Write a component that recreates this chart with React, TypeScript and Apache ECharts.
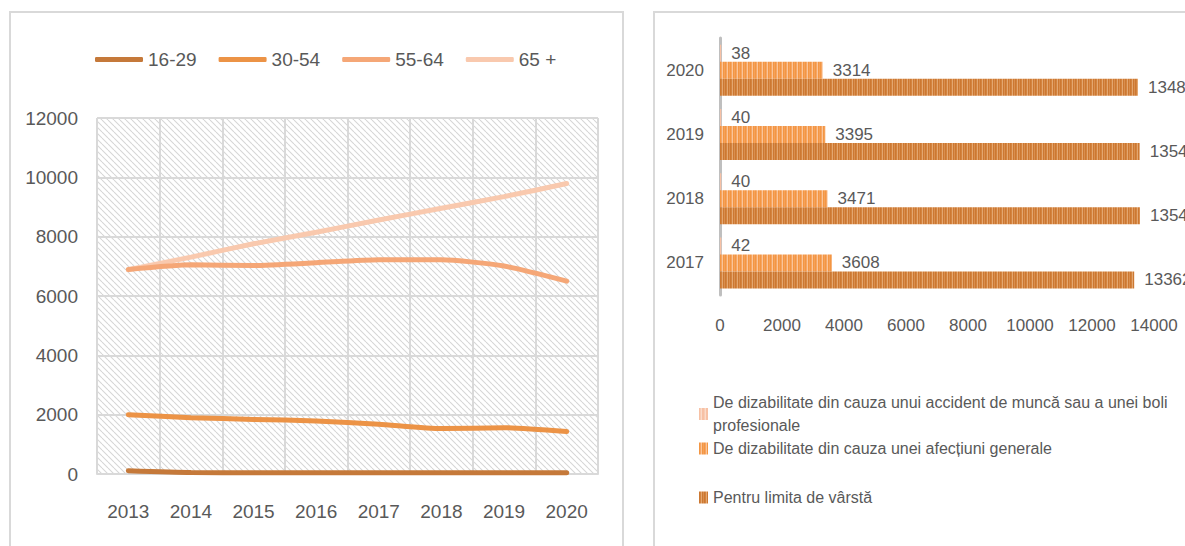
import React, { useEffect, useRef } from 'react';
import * as echarts from 'echarts';

// ---- Left chart data ----
const years = ['2013', '2014', '2015', '2016', '2017', '2018', '2019', '2020'];
const age16_29 = [110, 50, 45, 45, 42, 40, 40, 38];
const age30_54 = [2000, 1900, 1840, 1790, 1680, 1530, 1560, 1430];
const age55_64 = [6890, 7050, 7030, 7120, 7220, 7220, 7010, 6500];
const age65plus = [6890, 7310, 7760, 8150, 8560, 8960, 9350, 9790];
const leftTicks = { min: 0, max: 12000, interval: 2000 };

// ---- Right chart data ----
const pensionYears = ['2017', '2018', '2019', '2020'];
const accidentName = 'De dizabilitate din cauza unui accident de muncă sau a unei boli profesionale';
const generalName = 'De dizabilitate din cauza unei afecțiuni generale';
const ageName = 'Pentru limita de vârstă';
const accident = [42, 40, 40, 38];
const general = [3608, 3471, 3395, 3314];
const ageLimit = [13362, 13548, 13540, 13484];
const rightTicks = { min: 0, max: 14000, interval: 2000 };

const FONT = "'Liberation Sans', Arial, sans-serif";
const TXT = '#595959';

function makeHatch() {
  const s = 6;
  const c = document.createElement('canvas');
  c.width = s;
  c.height = s;
  const g = c.getContext('2d')!;
  g.fillStyle = '#ffffff';
  g.fillRect(0, 0, s, s);
  g.strokeStyle = '#d6d6d6';
  g.lineWidth = 1.1;
  for (const k of [-s, 0, s]) {
    g.beginPath();
    g.moveTo(k, 0);
    g.lineTo(k + s, s);
    g.stroke();
  }
  return { image: c.toDataURL(), repeat: 'repeat', imageWidth: s, imageHeight: s } as any;
}

function makeStripes(cols: string[]) {
  const c = document.createElement('canvas');
  c.width = cols.length;
  c.height = 4;
  const g = c.getContext('2d')!;
  cols.forEach((col, i) => {
    g.fillStyle = col;
    g.fillRect(i, 0, 1, 4);
  });
  return { image: c.toDataURL(), repeat: 'repeat', imageWidth: cols.length, imageHeight: 4 } as any;
}

const plain = (v: number) => String(v);

export default function App() {
  const ref = useRef<HTMLDivElement>(null);
  useEffect(() => {
    if (!ref.current) return;
    const chart = echarts.init(ref.current, null, { renderer: 'svg' });
    const hatch = makeHatch();
    const stripeAge = makeStripes(['#CC7832', '#D4843F', '#E3A771', '#CC7832', '#D98E4E']);
    const stripeGen = makeStripes(['#F39643', '#F6A664', '#FAC59A', '#F39643', '#F5A15A']);
    const stripeAcc = makeStripes(['#F7C1A5', '#F9CDB6', '#FBDCCB', '#F7C1A5']);
    const lbl = { color: TXT, fontFamily: FONT };
    const barLabel = { show: true, position: 'right', distance: 10, color: TXT, fontFamily: FONT, fontSize: 17 };
    const rightLegendBase = {
      orient: 'vertical',
      left: 694,
      icon: 'rect',
      itemWidth: 9,
      itemHeight: 12,
      textStyle: { color: TXT, fontFamily: FONT, fontSize: 16, lineHeight: 23, width: 478, overflow: 'break' },
    };
    chart.setOption({
      animation: false,
      graphic: [
        { type: 'rect', shape: { x: 10, y: 12, width: 613, height: 600 }, style: { fill: 'none', stroke: '#D9D9D9', lineWidth: 2 }, silent: true },
        { type: 'rect', shape: { x: 654, y: 12, width: 600, height: 600 }, style: { fill: 'none', stroke: '#D9D9D9', lineWidth: 2 }, silent: true },
      ],
      legend: [
        {
          data: ['16-29', '30-54', '55-64', '65 +'],
          left: 90,
          top: 45,
          icon: 'roundRect',
          itemWidth: 48,
          itemHeight: 5,
          itemGap: 22,
          textStyle: { color: TXT, fontFamily: FONT, fontSize: 19, width: 50 },
        },
        { ...rightLegendBase, top: 386, data: [accidentName] },
        { ...rightLegendBase, top: 432, data: [generalName] },
        { ...rightLegendBase, top: 481, data: [ageName] },
      ],
      grid: [
        { left: 97, right: 587, top: 118, bottom: 72, show: true, backgroundColor: hatch, borderWidth: 0 },
        { left: 720, right: 31, top: 38, bottom: 251 },
      ],
      xAxis: [
        {
          type: 'category',
          gridIndex: 0,
          data: years,
          boundaryGap: true,
          axisLine: { lineStyle: { color: '#D9D9D9', width: 2 } },
          axisTick: { show: false },
          axisLabel: { ...lbl, fontSize: 19, margin: 28, interval: 0 },
          splitLine: { show: true, interval: 0, lineStyle: { color: '#D9D9D9', width: 2 } },
        },
        {
          type: 'value',
          gridIndex: 1,
          ...rightTicks,
          axisLine: { show: false },
          axisTick: { show: false },
          splitLine: { show: false },
          axisLabel: { ...lbl, fontSize: 17, margin: 22, formatter: plain, hideOverlap: false, showMaxLabel: true },
        },
      ],
      yAxis: [
        {
          type: 'value',
          gridIndex: 0,
          ...leftTicks,
          axisLine: { show: false },
          axisTick: { show: false },
          axisLabel: { ...lbl, fontSize: 19, margin: 19, formatter: plain },
          splitLine: { lineStyle: { color: '#D9D9D9', width: 2 } },
        },
        {
          type: 'category',
          gridIndex: 1,
          data: pensionYears,
          axisLine: { show: true, lineStyle: { color: '#BFBFBF', width: 3 } },
          axisTick: { show: false },
          axisLabel: { ...lbl, fontSize: 17, margin: 16 },
        },
      ],
      series: [
        { type: 'line', name: '16-29', data: age16_29, xAxisIndex: 0, yAxisIndex: 0, symbol: 'none', smooth: 0.2, lineStyle: { width: 5, color: '#C5793A', cap: 'round' }, itemStyle: { color: '#C5793A' } },
        { type: 'line', name: '30-54', data: age30_54, xAxisIndex: 0, yAxisIndex: 0, symbol: 'none', smooth: 0.2, lineStyle: { width: 5, color: '#EC9346', cap: 'round' }, itemStyle: { color: '#EC9346' } },
        { type: 'line', name: '65 +', data: age65plus, xAxisIndex: 0, yAxisIndex: 0, symbol: 'none', smooth: 0.2, lineStyle: { width: 5, color: '#F9C9AE', cap: 'round' }, itemStyle: { color: '#F9C9AE' } },
        { type: 'line', name: '55-64', data: age55_64, xAxisIndex: 0, yAxisIndex: 0, symbol: 'none', smooth: 0.2, lineStyle: { width: 5, color: '#F5A777', cap: 'round' }, itemStyle: { color: '#F5A777' } },
        { type: 'bar', name: accidentName, data: accident, xAxisIndex: 1, yAxisIndex: 1, barWidth: 17, barGap: '0%', itemStyle: { color: stripeAcc }, label: barLabel },
        { type: 'bar', name: generalName, data: general, xAxisIndex: 1, yAxisIndex: 1, barWidth: 17, barGap: '0%', itemStyle: { color: stripeGen }, label: barLabel },
        { type: 'bar', name: ageName, data: ageLimit, xAxisIndex: 1, yAxisIndex: 1, barWidth: 17, barGap: '0%', itemStyle: { color: stripeAge }, label: barLabel },
      ],
    });
    return () => chart.dispose();
  }, []);
  return <div ref={ref} style={{ position: 'absolute', left: 0, top: 0, width: 1185, height: 546, background: '#fff' }} />;
}
